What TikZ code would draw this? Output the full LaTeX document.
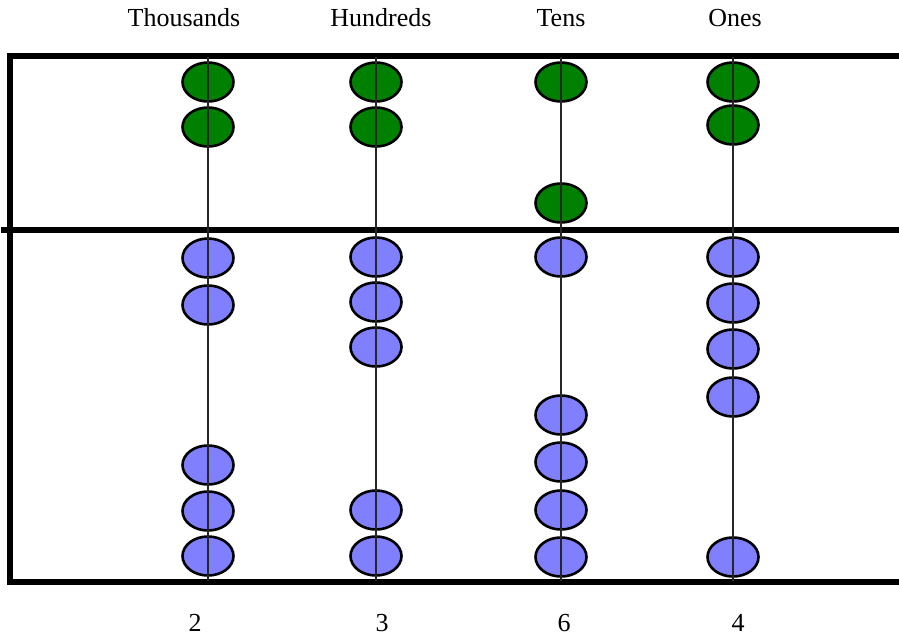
\documentclass[tikz,border=0pt]{standalone}
\usepackage{fontspec}
\setmainfont{Liberation Serif}
\usetikzlibrary{shapes.geometric}
\definecolor{beadgreen}{RGB}{0,128,0}
\definecolor{beadblue}{RGB}{128,128,255}
\tikzset{
  bead/.style={ellipse, draw=black, line width=2.6pt, minimum width=51pt, minimum height=39pt, inner sep=0pt},
  upper/.style={bead, fill=beadgreen},
  lower/.style={bead, fill=beadblue},
  frameline/.style={line width=6pt, line cap=rect},
  rod/.style={line width=1.3pt, draw=black!85},
  lbl/.style={font=\fontsize{26}{30}\selectfont, anchor=base, inner sep=0pt}
}
\begin{document}
\begin{tikzpicture}[x=1pt, y=-1pt]
\useasboundingbox (0,0) rectangle (899,637);
% frame
\coordinate (tl) at (9.5,56);
\coordinate (tr) at (899,56);
\coordinate (ml) at (4,230);
\coordinate (mr) at (899,230);
\coordinate (bl) at (9.5,581.5);
\coordinate (br) at (899,581.5);
\draw[frameline] (tl) -- (tr);
\draw[frameline] (ml) -- (mr);
\draw[frameline] (bl) -- (br);
\draw[frameline] (tl) -- (bl);
% beads
\foreach \n/\x/\ya/\yb/\la/\lb/\lc/\ld/\le in {
  th/208/82/127/258/305/465/511/556,
  hu/376/82/127/257/302/347/510/556,
  te/561/82/203/257/415/462/510/557,
  on/733/82/125/257/303/349/397/557}{
  \node[upper] (\n g1) at (\x,\ya) {};
  \node[upper] (\n g2) at (\x,\yb) {};
  \node[lower] (\n b1) at (\x,\la) {};
  \node[lower] (\n b2) at (\x,\lb) {};
  \node[lower] (\n b3) at (\x,\lc) {};
  \node[lower] (\n b4) at (\x,\ld) {};
  \node[lower] (\n b5) at (\x,\le) {};
  \coordinate (\n top) at (\x,57);
  \coordinate (\n bot) at (\x,581);
  \draw[rod] (\n top) -- (\n bot);
}
% labels
\node[lbl] (lth) at (184,27) {Thousands};
\node[lbl] (lhu) at (381,27) {Hundreds};
\node[lbl] (lte) at (561,27) {Tens};
\node[lbl] (lon) at (735,27) {Ones};
\node[lbl] (dth) at (195,631) {2};
\node[lbl] (dhu) at (382,631) {3};
\node[lbl] (dte) at (564,631) {6};
\node[lbl] (don) at (738,631) {4};
\end{tikzpicture}
\end{document}
